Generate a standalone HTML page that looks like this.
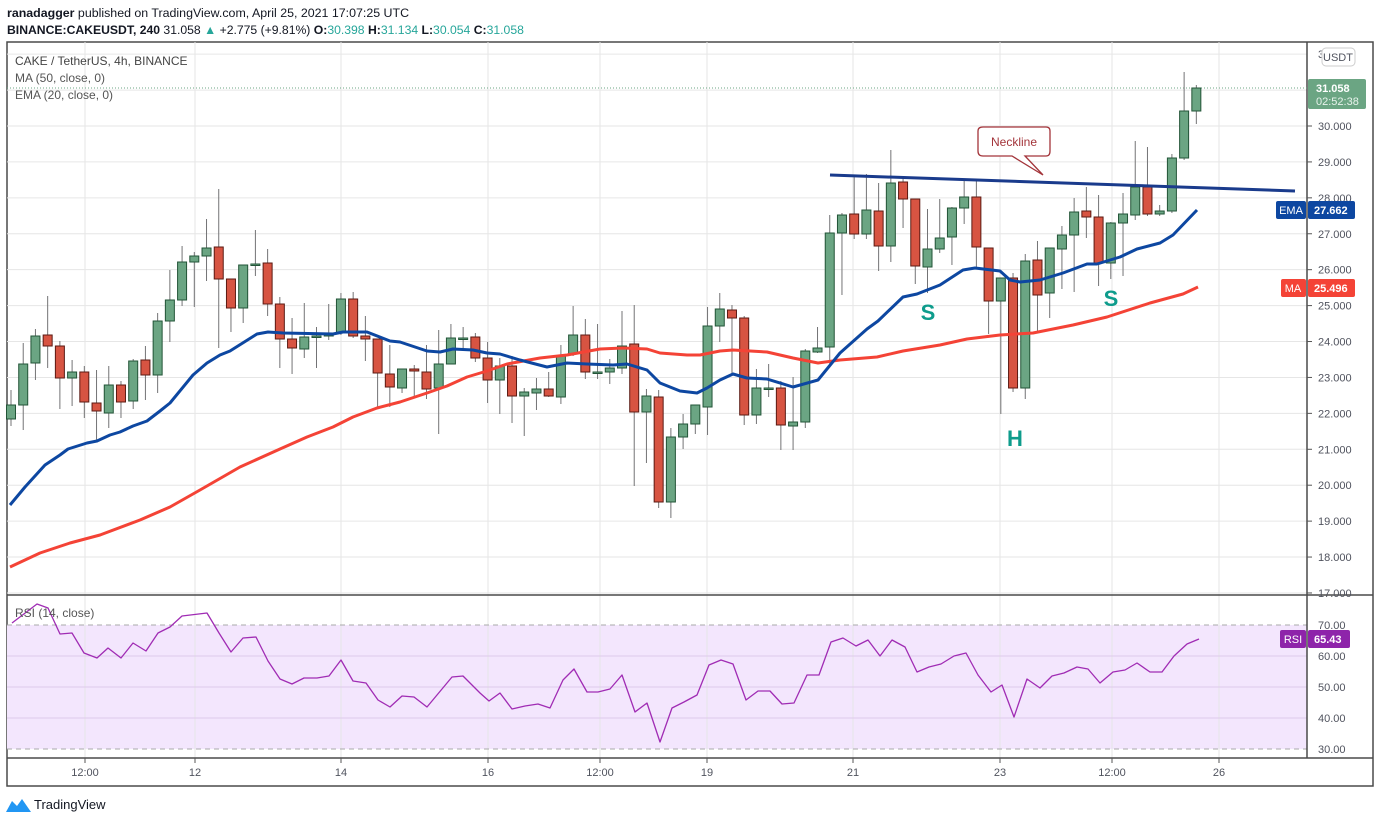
<!DOCTYPE html>
<html><head><meta charset="utf-8"><style>
body{margin:0;background:#fff;width:1376px;height:823px;overflow:hidden;font-family:"Liberation Sans",sans-serif}
svg{position:absolute;left:0;top:0}
</style></head><body>
<svg id="s" width="1376" height="823" xmlns="http://www.w3.org/2000/svg" font-family="Liberation Sans, sans-serif"></svg>
<script>
const S=document.getElementById('s');let h='';
const Y=p=>126+(30-p)*35.92, R=r=>625+(70-r)*3.1;
const vx=[85,195,341,488,600,707,853,1000,1112,1219];
h+='<rect x="7" y="42" width="1366" height="744" fill="#fff" stroke="#4a4a4a" stroke-width="1.5"/>';
h+='<rect x="7" y="625" width="1300" height="124" fill="#f3e6fd"/>';
for(const x of vx)h+=`<line x1="${x}" y1="42" x2="${x}" y2="758" stroke="#e6e6e6"/>`;
for(let p=17;p<=32;p++)h+=`<line x1="7" y1="${Y(p)}" x2="1307" y2="${Y(p)}" stroke="#e6e6e6"/>`;
for(const r of [40,50,60])h+=`<line x1="7" y1="${R(r)}" x2="1307" y2="${R(r)}" stroke="#ddc9ea"/>`;
for(const r of [30,70])h+=`<line x1="7" y1="${R(r)}" x2="1307" y2="${R(r)}" stroke="#aaa" stroke-dasharray="5,4"/>`;
h+='<line x1="7" y1="595" x2="1373" y2="595" stroke="#4a4a4a" stroke-width="1.5"/><line x1="7" y1="758" x2="1373" y2="758" stroke="#4a4a4a" stroke-width="1.5"/><line x1="1307" y1="42" x2="1307" y2="758" stroke="#4a4a4a" stroke-width="1.5"/>';
for(let p=17;p<=30;p++)h+=`<line x1="1307" y1="${Y(p)}" x2="1312" y2="${Y(p)}" stroke="#555"/><text x="1318" y="${Y(p)+4}" font-size="11" fill="#50535e">${p}.000</text>`;
h+=`<text x="1318" y="${Y(32)+4}" font-size="11" fill="#50535e">3</text>`;
for(const r of [30,40,50,60,70])h+=`<text x="1318" y="${R(r)+4}" font-size="11" fill="#50535e">${r}.00</text>`;
const tl=['12:00','12','14','16','12:00','19','21','23','12:00','26'];
vx.forEach((x,i)=>h+=`<line x1="${x}" y1="758" x2="${x}" y2="763" stroke="#555"/><text x="${x}" y="776" font-size="11" fill="#50535e" text-anchor="middle">${tl[i]}</text>`);
h+='<line x1="7" y1="88" x2="1307" y2="88" stroke="#6ba583" stroke-dasharray="1,2"/>';
const C=[[419,405,390,426],[405,364,343,430],[363,336,329,380],[335,346,296,368],[346,378,341,409],[378,372,360,406],[372,402,366,418],[403,411,370,440],[413,385,366,428],[385,402,381,418],[401,361,359,409],[360,375,346,400],[375,321,313,393],[321,300,270,342],[300,262,246,306],[262,256,252,307],[256,248,219,281],[247,279,189,348],[279,308,279,332],[308,265,265,323],[265,264,230,276],[263,304,249,316],[304,339,297,368],[339,348,318,374],[349,337,303,358],[336,336,327,368],[336,333,304,340],[333,299,293,335],[299,336,292,338],[336,339,316,361],[339,373,339,407],[374,387,345,407],[388,369,369,393],[369,371,365,396],[372,389,345,399],[388,364,330,434],[364,338,324,364],[338,338,327,348],[337,358,333,362],[358,380,342,403],[380,366,358,414],[366,396,356,423],[396,392,388,436],[393,389,378,410],[389,396,372,397],[397,356,345,404],[354,335,306,356],[335,372,319,379],[372,372,324,379],[372,368,359,384],[368,346,311,374],[344,412,305,486],[412,396,389,463],[397,502,390,508],[502,437,428,518],[437,424,414,449],[424,405,405,434],[407,326,307,435],[326,309,293,342],[310,318,305,376],[318,415,316,425],[415,388,369,424],[388,388,364,397],[388,425,381,450],[426,422,377,450],[422,351,349,428],[352,348,327,353],[347,233,215,367],[233,215,213,295],[214,234,177,239],[234,210,174,239],[211,246,183,271],[246,183,150,262],[182,199,177,228],[199,266,199,284],[267,249,209,293],[249,238,199,253],[237,208,207,265],[208,197,180,224],[197,247,180,267],[248,301,248,334],[301,278,278,414],[278,388,273,392],[388,261,254,399],[260,295,241,333],[293,248,248,318],[249,235,226,289],[235,212,198,292],[211,217,187,238],[217,263,195,286],[263,223,222,279],[223,214,193,276],[215,187,141,220],[187,214,147,216],[214,211,205,216],[211,158,154,213],[158,111,72,160],[111,88,85,124]];
C.forEach((c,i)=>{const x=11+12.22*i,[o,cl,hi,lo]=c,up=cl<=o;const t=Math.min(o,cl),b=Math.max(Math.abs(o-cl),1.5);
h+=`<line x1="${x}" y1="${hi}" x2="${x}" y2="${lo}" stroke="#737375"/><rect x="${x-4.5}" y="${t}" width="9" height="${b}" fill="${up?'#6ba583':'#d75442'}" stroke="${up?'#225437':'#5b1a13'}"/>`;});
const pl=(pts,col,w)=>`<polyline points="${pts.map(p=>p.join(',')).join(' ')}" fill="none" stroke="${col}" stroke-width="${w}" stroke-linejoin="round"/>`;
h+=pl([[10,567],[40,553],[70,543],[100,535],[140,520],[170,507],[200,490],[240,467],[280,449],[307,437],[333,427],[353,417],[377,408],[400,402],[427,393],[447,386],[467,377],[487,371],[507,364],[540,358],[567,355],[600,349],[623,348],[647,349],[660,353],[687,355],[700,355],[720,351],[733,350],[767,352],[793,358],[818,363],[840,360],[877,357],[903,351],[940,345],[967,339],[1000,335],[1033,333],[1073,325],[1107,317],[1150,303],[1183,294],[1198,287]],'#f44336',3);
h+=pl([[10,505],[25,487],[45,465],[60,455],[68,449],[87,443],[97,441],[110,435],[120,432],[133,426],[147,421],[160,411],[170,403],[193,375],[207,363],[220,355],[230,351],[257,334],[268,332],[283,333],[333,334],[343,332],[367,332],[390,341],[400,342],[427,351],[440,352],[453,349],[473,350],[487,353],[500,354],[520,360],[547,367],[567,363],[587,364],[613,365],[627,364],[647,370],[660,383],[680,391],[697,393],[707,388],[720,380],[733,374],[747,378],[767,379],[793,387],[818,380],[840,353],[867,329],[878,321],[903,297],[917,294],[940,285],[963,270],[975,268],[1000,271],[1010,280],[1020,282],[1040,280],[1063,273],[1087,264],[1097,264],[1120,257],[1137,249],[1160,243],[1173,235],[1197,210]],'#0d47a1',3);
h+='<line x1="830" y1="175" x2="1295" y2="191" stroke="#1a3b8c" stroke-width="3"/>';
h+='<path d="M983,127 H1046 Q1050,127 1050,131 V151 Q1050,156 1046,156 H1025 L1043,175 L1012,156 H983 Q978,156 978,151 V131 Q978,127 983,127Z" fill="#fff" stroke="#a3343a" stroke-width="1.3"/><text x="1014" y="146" font-size="12" fill="#a3343a" text-anchor="middle">Neckline</text>';
h+='<text x="928" y="320" font-size="22" font-weight="bold" fill="#0e9c8c" text-anchor="middle">S</text><text x="1015" y="446" font-size="22" font-weight="bold" fill="#0e9c8c" text-anchor="middle">H</text><text x="1111" y="306" font-size="22" font-weight="bold" fill="#0e9c8c" text-anchor="middle">S</text>';
h+=pl([[12,623],[37,604],[48,608],[60,634],[72,633],[84,653],[97,658],[108,648],[121,658],[133,643],[146,651],[158,633],[170,627],[182,616],[207,613],[219,633],[231,652],[243,638],[256,637],[268,661],[280,679],[292,684],[304,678],[317,678],[329,676],[341,660],[353,681],[366,683],[378,700],[390,707],[402,696],[414,697],[427,707],[452,677],[463,676],[480,693],[489,701],[500,693],[512,709],[525,706],[538,704],[550,708],[563,680],[574,669],[587,692],[598,692],[610,689],[622,675],[635,712],[647,703],[660,742],[672,708],[684,702],[697,695],[709,665],[721,660],[733,664],[746,700],[758,691],[770,691],[782,704],[794,703],[807,675],[819,675],[831,642],[843,638],[856,646],[868,640],[880,656],[892,640],[905,647],[917,672],[929,667],[941,664],[954,656],[966,653],[978,675],[991,692],[1002,685],[1014,717],[1027,679],[1040,688],[1052,676],[1064,673],[1077,667],[1088,669],[1100,683],[1113,672],[1125,670],[1137,663],[1150,672],[1162,672],[1174,656],[1187,644],[1199,639]],'#a02cb4',1.3);
h+='<text x="15" y="65" font-size="12" fill="#444">CAKE / TetherUS, 4h, BINANCE</text><text x="15" y="82" font-size="12" fill="#555">MA (50, close, 0)</text><text x="15" y="99" font-size="12" fill="#555">EMA (20, close, 0)</text><text x="15" y="617" font-size="12" fill="#555">RSI (14, close)</text>';
h+='<text x="7" y="17" font-size="12.4" fill="#131722"><tspan font-weight="bold">ranadagger</tspan> published on TradingView.com, April 25, 2021 17:07:25 UTC</text>';
h+='<text x="7" y="34" font-size="12.2" fill="#131722"><tspan font-weight="bold">BINANCE:CAKEUSDT, 240</tspan> 31.058 <tspan fill="#26a69a">▲</tspan> +2.775 (+9.81%) <tspan font-weight="bold">O:</tspan><tspan fill="#26a69a">30.398</tspan> <tspan font-weight="bold">H:</tspan><tspan fill="#26a69a">31.134</tspan> <tspan font-weight="bold">L:</tspan><tspan fill="#26a69a">30.054</tspan> <tspan font-weight="bold">C:</tspan><tspan fill="#26a69a">31.058</tspan></text>';
h+='<rect x="1322" y="48" width="33" height="18" rx="4" fill="#fff" stroke="#ccc"/><text x="1338" y="61" font-size="11" fill="#50535e" text-anchor="middle">USDT</text>';
h+='<rect x="1308" y="79" width="58" height="30" rx="2" fill="#6ba583"/><text x="1316" y="92" font-size="11" font-weight="bold" fill="#fff">31.058</text><text x="1316" y="105" font-size="11" fill="#e8f3ec">02:52:38</text>';
h+='<rect x="1276" y="201" width="30" height="18" rx="2" fill="#0d47a1"/><text x="1291" y="214" font-size="11" fill="#fff" text-anchor="middle">EMA</text><rect x="1308" y="201" width="47" height="18" rx="2" fill="#0d47a1"/><text x="1314" y="214" font-size="11" font-weight="bold" fill="#fff">27.662</text>';
h+='<rect x="1281" y="279" width="25" height="18" rx="2" fill="#f44336"/><text x="1293" y="292" font-size="11" fill="#fff" text-anchor="middle">MA</text><rect x="1308" y="279" width="47" height="18" rx="2" fill="#f44336"/><text x="1314" y="292" font-size="11" font-weight="bold" fill="#fff">25.496</text>';
h+='<rect x="1280" y="630" width="26" height="18" rx="2" fill="#8e24aa"/><text x="1293" y="643" font-size="11" fill="#fff" text-anchor="middle">RSI</text><rect x="1308" y="630" width="42" height="18" rx="2" fill="#8e24aa"/><text x="1314" y="643" font-size="11" font-weight="bold" fill="#fff">65.43</text>';
h+='<path d="M6,812 L12,801 L17,806 L22,799 L31,812 Z" fill="#2196f3"/><text x="34" y="809" font-size="13" fill="#131722">TradingView</text>';
S.innerHTML=h;
</script>
</body></html>
